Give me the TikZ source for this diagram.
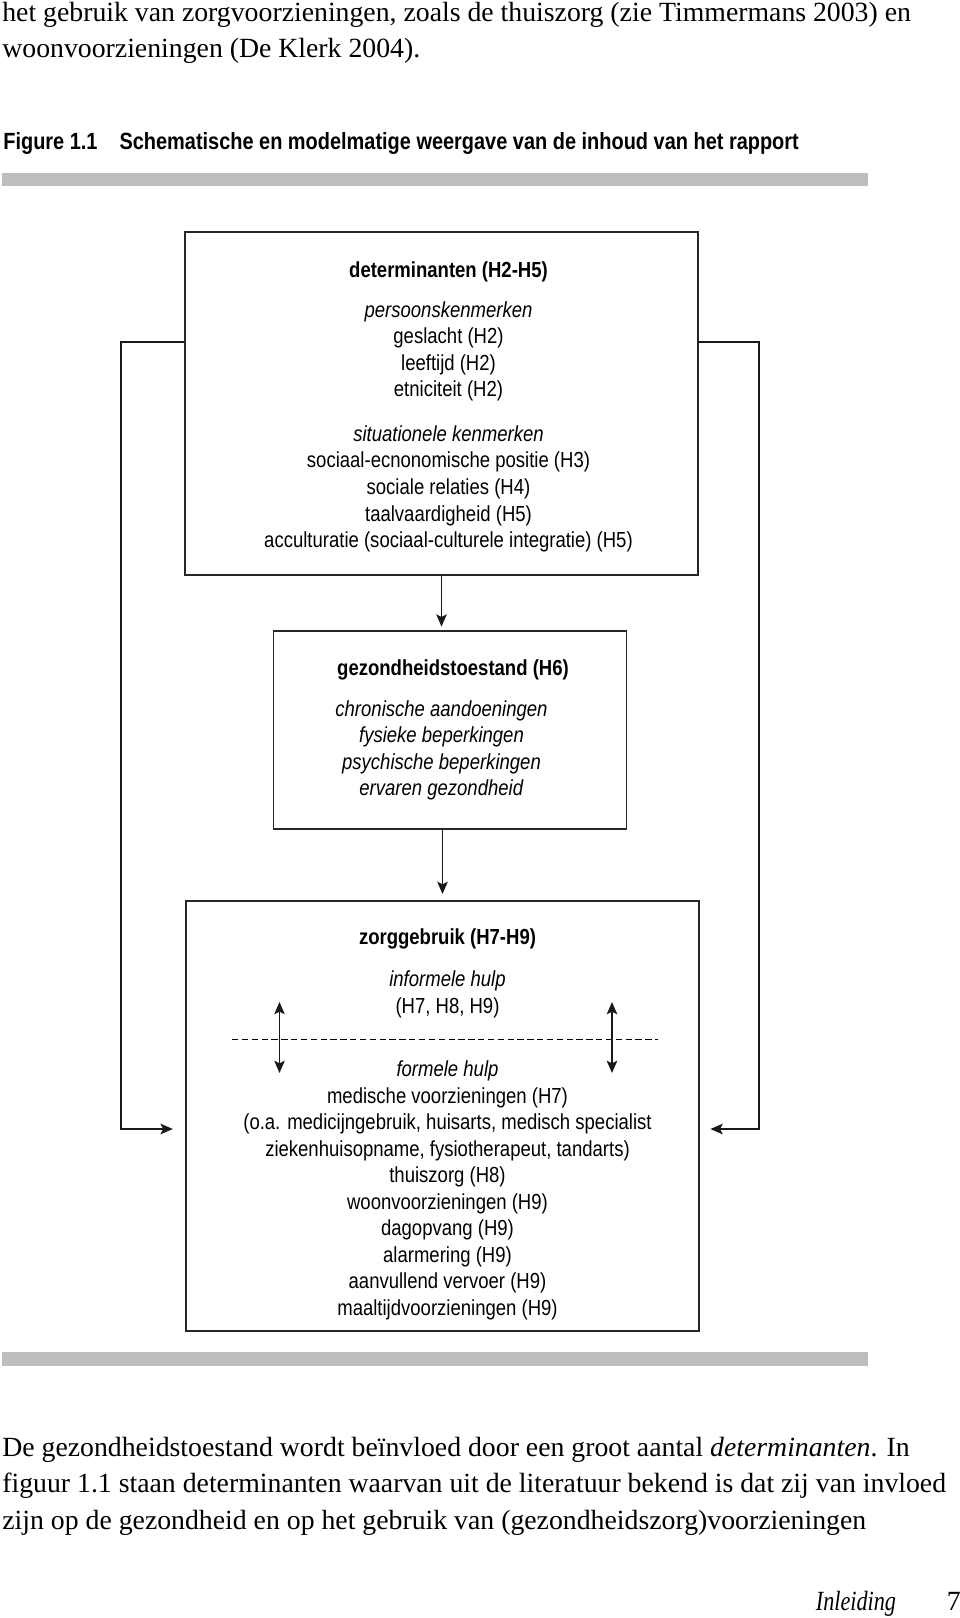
\documentclass[tikz,border=0pt]{standalone}
\usepackage{fontspec}
\setmainfont{Liberation Serif}
\newfontfamily\figfont[FakeStretch=0.85]{Liberation Sans}
\newfontfamily\footfont[FakeStretch=0.8]{Liberation Serif}
\usetikzlibrary{arrows.meta}
\definecolor{barGray}{HTML}{BEBEBE}
\begin{document}
\begin{tikzpicture}[
        box/.style={draw=black!85, line width=1pt, inner sep=0pt},
        boxtext/.style={align=center, inner sep=0pt, font=\figfont\fontsize{12.4}{15.1}\selectfont},
        flow/.style={-{Stealth[length=7pt,width=6pt,inset=1.5pt]}, line width=0.8pt, draw=black!90},
        both/.style={{Stealth[length=7pt,width=6pt,inset=1.5pt]}-{Stealth[length=7pt,width=6pt,inset=1.5pt]}, line width=0.8pt, draw=black!90},
        bodytext/.style={anchor=base west, inner sep=0pt, font=\fontsize{15.8}{20}\selectfont},
        captext/.style={anchor=base west, inner sep=0pt, font=\figfont\bfseries\fontsize{13.35}{16}\selectfont}
    ]
        \useasboundingbox (0,0) rectangle (19.2,-32.36);

        % running text above the figure
        \node (intro1) at (0.04,-0.43) [bodytext] {het gebruik van zorgvoorzieningen, zoals de thuiszorg (zie Timmermans 2003) en};
        \node (intro2) at (0.04,-1.16) [bodytext] {woonvoorzieningen (De Klerk 2004).};
        \node (caption) at (0.06,-2.99) [captext] {Figure 1.1\hspace{0.44cm}Schematische en modelmatige weergave van de inhoud van het rapport};
        \fill[barGray] (0.04,-3.45) rectangle (17.36,-3.72);

        % the three boxes
        \node (detbox) at (8.83,-8.07) [box, minimum width=10.26cm, minimum height=6.86cm] {};
        \node (gezbox) at (9.0,-14.6) [box, minimum width=7.06cm, minimum height=3.96cm] {};
        \node (zorgbox) at (8.85,-22.32) [box, minimum width=10.26cm, minimum height=8.6cm] {};

        \node (dettext) at ([shift={(0.14,-0.065)}]detbox.center) [boxtext] {\textbf{determinanten (H2-H5)}\\[0.27cm]
            \textit{persoonskenmerken}\\ geslacht (H2)\\ leeftijd (H2)\\ etniciteit (H2)\\[0.36cm]
            \textit{situationele kenmerken}\\ sociaal-ecnonomische positie (H3)\\ sociale relaties (H4)\\ taalvaardigheid (H5)\\
            acculturatie (sociaal-culturele integratie) (H5)};
        \node (geztext) at ([shift={(-0.17,0)}]gezbox.center) [boxtext] {\hspace*{0.46cm}\textbf{gezondheidstoestand (H6)}\\[0.29cm]
            \textit{chronische aandoeningen}\\ \textit{fysieke beperkingen}\\ \textit{psychische beperkingen}\\ \textit{ervaren gezondheid}};
        \node (zorgtext) at ([shift={(0.1,-0.17)}]zorgbox.center) [boxtext] {\textbf{zorggebruik (H7-H9)}\\[0.31cm]
            \textit{informele hulp}\\ (H7, H8, H9)\\[0.73cm]
            \textit{formele hulp}\\ medische voorzieningen (H7)\\ (o.a. medicijngebruik, huisarts, medisch specialist\\
            ziekenhuisopname, fysiotherapeut, tandarts)\\ thuiszorg (H8)\\ woonvoorzieningen (H9)\\ dagopvang (H9)\\
            alarmering (H9)\\ aanvullend vervoer (H9)\\ maaltijdvoorzieningen (H9)};

        % informele / formele hulp
        \coordinate (dashL) at (4.64,-20.79);
        \coordinate (dashR) at (13.16,-20.79);
        \coordinate (infL) at (5.59,-20.04);
        \coordinate (forL) at (5.59,-21.46);
        \coordinate (infR) at (12.24,-20.04);
        \coordinate (forR) at (12.24,-21.46);
        \draw[line width=0.6pt, dash pattern=on 3.6pt off 2pt] (dashL) -- (dashR);
        \draw[both] (infL) -- (forL);
        \draw[both] (infR) -- (forR);

        % arrows between the boxes
        \draw[flow, shorten >=2pt] (detbox.south) -- (detbox.south |- gezbox.north);
        \draw[flow, shorten >=3.5pt] (zorgbox.north |- gezbox.south) -- (zorgbox.north);

        % determinants also act on zorggebruik directly
        \coordinate (fbL) at (2.42,-6.84);
        \coordinate (fbLb) at (2.42,-22.58);
        \coordinate (fbR) at (15.18,-6.84);
        \coordinate (fbRb) at (15.18,-22.58);
        \draw[flow, shorten >=7pt] (fbL -| detbox.west) -- (fbL) -- (fbLb) -- (fbLb -| zorgbox.west);
        \draw[flow, shorten >=6pt] (fbR -| detbox.east) -- (fbR) -- (fbRb) -- (fbRb -| zorgbox.east);

        \fill[barGray] (0.04,-27.04) rectangle (17.36,-27.32);

        % running text below the figure
        \node (body1) at (0.04,-29.13) [bodytext] {De gezondheidstoestand wordt beïnvloed door een groot aantal \textit{determinanten}. In};
        \node (body2) at (0.04,-29.85) [bodytext] {figuur 1.1 staan determinanten waarvan uit de literatuur bekend is dat zij van invloed};
        \node (body3) at (0.04,-30.58) [bodytext] {zijn op de gezondheid en op het gebruik van (gezondheidszorg)voorzieningen};
        \node (footer) at (16.31,-32.2) [bodytext] {\footfont\itshape Inleiding};
        \node (pagenum) at (18.93,-32.2) [bodytext] {7};
    \end{tikzpicture}
\end{document}
